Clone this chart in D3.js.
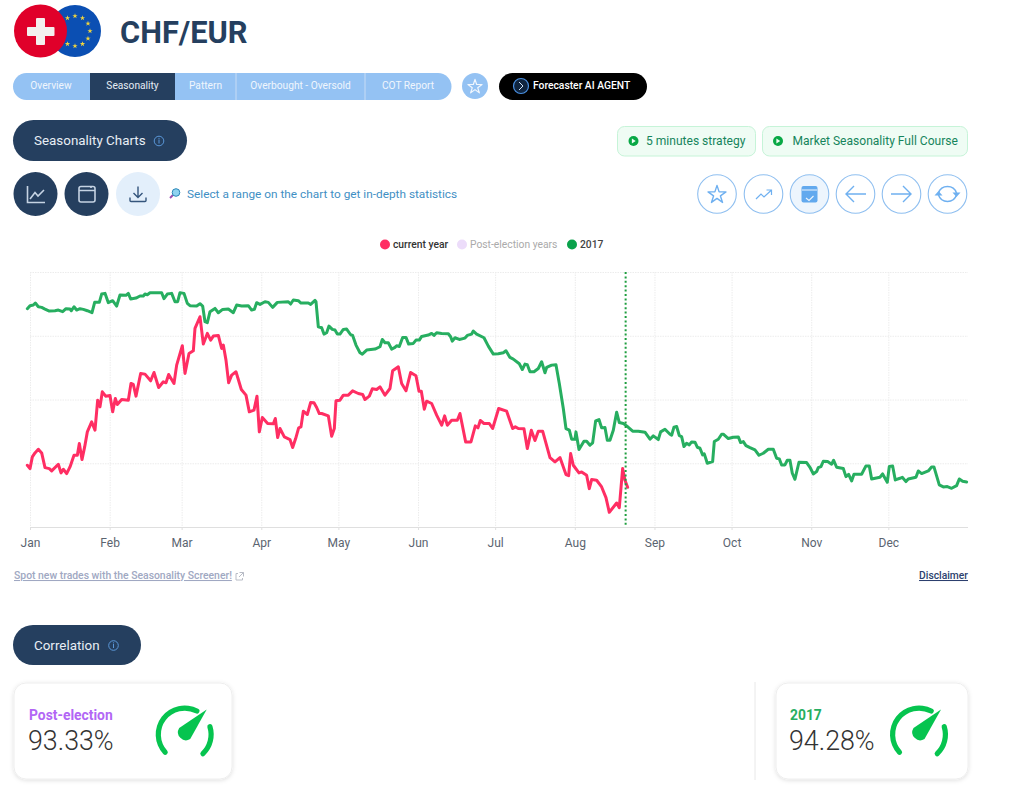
<!DOCTYPE html>
<html>
<head>
<meta charset="utf-8">
<script src="https://cdn.jsdelivr.net/npm/d3@7/dist/d3.min.js"></script>
<style>
html,body{margin:0;padding:0;background:#fff;overflow:hidden}
svg{display:block;font-family:Roboto,sans-serif}
</style>
</head>
<body>
<svg id="page" width="1024" height="811"></svg>
<script>
// ---------- data ----------
// x readings: position along the year, 7.71 units per day; y readings: unlabelled index
const UNITS_PER_DAY = 7.71;
const monthNames = ["Jan","Feb","Mar","Apr","May","Jun","Jul","Aug","Sep","Oct","Nov","Dec"];
const monthStartDays = [0,31,59,90,120,151,181,212,243,273,304,334];
const gridLevels = [0,191,382,573,764];
const todayPos = 1787;

const greenPos = [-8,0,10,16,25,35,45,58,75,85,98,108,120,124,132,140,150,160,172,186,194,208,215,225,235,248,260,270,288,295,302,318,330,340,345,352,360,375,395,402,412,425,435,443,450,462,472,480,500,510,518,525,532,540,555,565,578,595,610,620,635,655,665,673,680,690,705,715,728,742,775,782,790,805,813,835,842,855,858,865,875,882,890,897,907,915,922,930,
940,950,962,968,978,990,997,1010,1035,1050,1057,1065,1075,1085,1095,1100,1108,1118,1128,1136,1150,1158,1168,1175,1195,1205,1212,1220,1235,1255,1262,1267,1275,1288,1305,1312,1325,1330,1340,1362,1375,1390,1405,1420,1428,1440,1450,1468,1477,1485,1492,1500,1512,1525,1535,1545,1550,1565,1578,1588,1600,1608,1618,1625,1635,1638,1647,1662,1670,1680,1688,1697,1707,1715,1725,1732,1740,1750,1760,1768,1780,1790,1808,1825,1845,1860,1870,1885,1892,1905,1920,
1925,1932,1940,1948,1955,1962,1970,1978,1985,1995,2002,2010,2018,2023,2032,2048,2053,2065,2075,2080,2095,2110,2125,2132,2140,2148,2160,2175,2187,2200,2215,2230,2240,2248,2255,2265,2272,2280,2287,2295,2307,2330,2340,2350,2360,2365,2373,2380,2393,2405,2411,2420,2440,2448,2456,2465,2472,2495,2508,2518,2525,2550,2558,2572,2578,2588,2596,2610,2617,2628,2635,2658,2665,2675,2695,2705,2712,2728,2740,2752,2765,2780,2788,2798,2810];
const greenVal = [654,663,665,671,660,658,653,647,648,650,645,654,653,648,660,650,654,652,648,642,673,673,698,700,672,678,662,695,694,700,683,686,692,692,698,696,702,702,702,684,698,700,675,675,702,700,670,663,662,669,662,615,612,645,655,642,652,653,642,665,662,663,650,652,672,667,675,673,658,673,675,668,680,678,671,671,667,679,675,600,597,578,582,602,592,590,578,578,
592,593,576,574,545,522,518,530,533,540,562,552,552,533,538,543,541,568,568,548,550,560,560,571,575,580,574,582,580,579,570,557,567,562,566,574,578,587,578,567,542,518,519,522,528,508,503,489,472,488,486,465,465,475,495,462,478,485,486,430,355,295,290,263,263,285,232,257,257,245,252,318,322,297,298,260,260,290,344,313,310,303,287,287,284,263,273,262,285,293,278,
275,299,301,274,271,241,251,246,255,254,239,236,216,219,191,196,256,263,278,278,265,269,270,253,256,244,238,231,215,221,233,233,206,204,186,186,200,200,161,143,194,193,179,159,166,178,181,197,196,188,200,179,175,151,158,138,158,158,183,183,144,149,159,134,181,183,141,146,149,136,144,149,168,160,168,180,180,126,120,121,116,124,144,137,135];

const redPos = [-8,0,7,15,25,35,45,58,65,85,93,100,110,120,132,142,148,156,164,172,185,195,203,210,217,227,240,248,256,262,275,295,303,310,318,332,345,362,372,386,400,408,416,432,440,457,465,477,490,495,510,520,532,542,550,565,575,580,588,596,605,618,634,648,658,672,681,688,697,713,730,736,743,750,763,780,788,797,806,813,820,832,842,852,860,868,875,895,905,913,918,930,
940,955,968,985,998,1005,1018,1027,1040,1050,1065,1080,1088,1105,1115,1128,1142,1158,1167,1174,1183,1190,1205,1220,1235,1244,1252,1265,1282,1290,1307,1323,1336,1344,1351,1362,1378,1388,1406,1430,1448,1456,1465,1482,1492,1504,1515,1525,1538,1560,1575,1590,1608,1616,1622,1630,1647,1655,1670,1678,1685,1700,1715,1728,1738,1760,1768,1778,1785,1793];
const redVal = [185,175,210,222,233,222,178,175,168,188,162,173,160,180,215,215,250,202,240,285,315,290,380,360,405,392,394,345,385,367,382,380,430,427,392,460,458,438,463,418,435,432,457,430,485,543,460,520,528,595,630,548,580,560,572,574,535,545,500,432,455,465,412,395,345,350,392,285,328,310,309,325,268,295,270,262,238,265,297,300,347,337,373,372,358,340,340,333,272,295,378,380,
395,395,408,400,397,382,392,414,412,420,395,415,468,480,430,408,463,453,407,407,353,377,370,335,305,333,305,320,320,340,255,255,303,297,319,310,310,295,355,347,295,300,295,294,235,290,259,287,287,208,195,208,157,154,220,185,162,165,155,115,142,140,120,88,44,72,58,175,140,119];

const legendLabels = ["current year","Post-election years","2017"];
const tabLabels = ["Overview","Seasonality","Pattern","Overbought - Oversold","COT Report"];
const corrLabels = ["Post-election","2017"];
const corrValues = ["93.33%","94.28%"];

// ---------- colours ----------
const NAVY="#253f5f", TAB="#94c2f3", RED="#ff2e63", GREEN="#27ae60", GAUGE="#06c44f", RING="#8fbff0";

const svg = d3.select("#page");
const txt = (g,x,y,s,size,fill,o={}) => g.append("text").attr("x",x).attr("y",y).text(s)
  .attr("font-size",size).attr("fill",fill).attr("font-weight",o.w||400)
  .attr("text-anchor",o.a||"start").attr("text-decoration",o.u?"underline":null);

const defs = svg.append("defs");
const sh = defs.append("filter").attr("id","cardShadow").attr("x","-10%").attr("y","-10%").attr("width","120%").attr("height","125%");
sh.append("feDropShadow").attr("dx",0).attr("dy",1).attr("stdDeviation",2).attr("flood-color","#000").attr("flood-opacity",0.13);

// ---------- header ----------
const head = svg.append("g");
head.append("circle").attr("cx",75).attr("cy",31).attr("r",26).attr("fill","#0b4fb3");
d3.range(12).forEach(i=>{
  const a=i*Math.PI/6;
  head.append("path").attr("d",d3.symbol(d3.symbolStar,9)())
    .attr("transform",`translate(${75+15*Math.sin(a)},${31-15*Math.cos(a)})`).attr("fill","#f2d53c");
});
head.append("circle").attr("cx",40.5).attr("cy",31).attr("r",26.5).attr("fill","#e0002a");
head.append("rect").attr("x",36).attr("y",18).attr("width",9).attr("height",27).attr("rx",1).attr("fill","#f3f0ee");
head.append("rect").attr("x",27).attr("y",27).attr("width",27.5).attr("height",9).attr("rx",1).attr("fill","#f3f0ee");
txt(head,120,43,"CHF/EUR",30.8,NAVY,{w:700});

// ---------- tabs ----------
const tabs = svg.append("g");
tabs.append("rect").attr("x",13).attr("y",73).attr("width",438.5).attr("height",27).attr("rx",13.5).attr("fill",TAB);
tabs.append("rect").attr("x",90).attr("y",73).attr("width",85).attr("height",27).attr("fill",NAVY);
[236,365].forEach(x=>tabs.append("line").attr("x1",x).attr("x2",x).attr("y1",73).attr("y2",100).attr("stroke","#c7dcf5"));
[51,132.5,205.5,300.5,408].forEach((x,i)=>txt(tabs,x,89,tabLabels[i],10.2,i==1?"#e6edf5":"#f0f6fd",{a:"middle"}));
tabs.append("circle").attr("cx",475).attr("cy",86).attr("r",13).attr("fill",TAB);
const star = (g,cx,cy,s,stroke,w)=>g.append("path").attr("d",d3.symbol(d3.symbolStar,s)())
  .attr("transform",`translate(${cx},${cy+0.8})`).attr("fill","none").attr("stroke",stroke).attr("stroke-width",w).attr("stroke-linejoin","round");
star(tabs,475,86,62,"#f2f7fd",1.2);
tabs.append("rect").attr("x",499).attr("y",73).attr("width",148).attr("height",27).attr("rx",13.5).attr("fill","#000");
tabs.append("circle").attr("cx",521).attr("cy",86).attr("r",7.5).attr("fill","#10253f").attr("stroke","#4a90e2").attr("stroke-width",1.2);
tabs.append("path").attr("d","M519,82L523,86L519,90").attr("fill","none").attr("stroke","#cfe3fa").attr("stroke-width",1);
txt(tabs,533,89.2,"Forecaster AI AGENT",10.3,"#fff",{w:500});

// ---------- pills ----------
const pill=(x,w,y,h,label,ix)=>{
  const g=svg.append("g");
  g.append("rect").attr("x",x).attr("y",y).attr("width",w).attr("height",h).attr("rx",h/2).attr("fill",NAVY);
  txt(g,34,y+h/2+4.5,label,13.4,"#e8eef5");
  g.append("circle").attr("cx",ix).attr("cy",y+h/2+0.5).attr("r",4.8).attr("fill","none").attr("stroke","#5a97d8").attr("stroke-width",1);
  g.append("line").attr("x1",ix).attr("x2",ix).attr("y1",y+h/2-1).attr("y2",y+h/2+3).attr("stroke","#5a97d8");
  g.append("circle").attr("cx",ix).attr("cy",y+h/2-2.2).attr("r",0.6).attr("fill","#5a97d8");
};
pill(13,174,120,41,"Seasonality Charts",159);
pill(13,128,625,40,"Correlation",113.5);

// ---------- left tool buttons ----------
const tools=svg.append("g");
[[35.5,NAVY],[86.5,NAVY],[138,"#e3effb"]].forEach(d=>tools.append("circle").attr("cx",d[0]).attr("cy",194).attr("r",22).attr("fill",d[1]));
tools.append("path").attr("d","M27.5,186V202.5H45M30,199L35,192.5L38,196L44,190").attr("fill","none").attr("stroke","#c5d3e3").attr("stroke-width",1.6);
tools.append("rect").attr("x",79).attr("y",186.5).attr("width",16).attr("height",15.5).attr("rx",2).attr("fill","none").attr("stroke","#c5d3e3").attr("stroke-width",1.6);
tools.append("path").attr("d","M79,190.5H95M91,186V188").attr("fill","none").attr("stroke","#c5d3e3").attr("stroke-width",1.6);
tools.append("path").attr("d","M138,186.5V197M133.5,193L138,197.5L142.5,193M130,197.5V200.5Q130,201.5 131,201.5H145Q146,201.5 146,200.5V197.5").attr("fill","none").attr("stroke","#34557c").attr("stroke-width",1.4);
tools.append("line").attr("x1",170).attr("y1",198).attr("x2",173).attr("y2",195).attr("stroke","#9a4fb0").attr("stroke-width",2);
tools.append("circle").attr("cx",176).attr("cy",192.5).attr("r",3.8).attr("fill","#8fd3f0").attr("stroke","#2b87b8").attr("stroke-width",1);
txt(tools,187,197.5,"Select a range on the chart to get in-depth statistics",11.82,"#3f8fc4");

// ---------- course buttons ----------
const course=svg.append("g");
[[617.5,138,633.5,646,"5 minutes strategy"],[762.5,205,778,792.5,"Market Seasonality Full Course"]].forEach(d=>{
  course.append("rect").attr("x",d[0]).attr("y",126.5).attr("width",d[1]).attr("height",29.5).attr("rx",7).attr("fill","#effcf4").attr("stroke","#c6f4d8");
  course.append("circle").attr("cx",d[2]).attr("cy",141).attr("r",5).attr("fill","#08a845");
  course.append("path").attr("d",`M${d[2]-1.6},${138.6}L${d[2]+2.2},141L${d[2]-1.6},${143.4}Z`).attr("fill","#effcf4");
  txt(course,d[3],145,d[4],12.05,"#16855c");
});

// ---------- right ring buttons ----------
const rings=svg.append("g");
const ringX=[717,763.5,809.5,855.5,901.5,947.5];
ringX.forEach((x,i)=>rings.append("circle").attr("cx",x).attr("cy",194).attr("r",19.3)
  .attr("fill",i==2?"#edf5fd":"#fff").attr("stroke",RING).attr("stroke-width",1.1));
const IC="#6fb0f0";
star(rings,717,194,100,IC,1.4);
rings.append("path").attr("d","M756,199L761,194L764,197L771,190.5M766.5,190H771.5V195").attr("fill","none").attr("stroke",IC).attr("stroke-width",1.2);
rings.append("rect").attr("x",801.5).attr("y",186).attr("width",16).attr("height",16.5).attr("rx",2).attr("fill","#62a9ee");
rings.append("path").attr("d","M802,190H817M806,198L809,200.5L813.5,196").attr("fill","none").attr("stroke","#edf5fd").attr("stroke-width",1.1);
rings.append("path").attr("d","M846,194H866M854,186L846,194L854,202").attr("fill","none").attr("stroke",IC).attr("stroke-width",1.4);
rings.append("path").attr("d","M891,194H911M903,186L911,194L903,202").attr("fill","none").attr("stroke",IC).attr("stroke-width",1.4);
rings.append("path").attr("d","M938.5,193A9.5,9.5 0 0 1 956.5,193M938.5,195A9.5,9.5 0 0 0 956.5,195").attr("fill","none").attr("stroke",IC).attr("stroke-width",1.5);
rings.append("path").attr("d","M952.5,192.5H960.5L956.5,197ZM934.5,195.5H942.5L938.5,191Z").attr("fill",IC);

// ---------- legend ----------
const legend=svg.append("g");
[[385,393,RED,"#333",0,500],[462,470,"#ecdcfa","#aaa",1,400],[572,580,"#0aa24b","#444",2,500]].forEach(d=>{
  legend.append("circle").attr("cx",d[0]).attr("cy",244.5).attr("r",5).attr("fill",d[2]);
  txt(legend,d[1],248.3,legendLabels[d[4]],10.3,d[3],{w:d[5]});
});

// ---------- chart ----------
const x=d3.scaleLinear().domain([0,365]).range([30,968]);
const y=d3.scaleLinear().domain([0,764]).range([527,272]);
const chart=svg.append("g");

const gy=chart.append("g").attr("transform","translate(30,0)")
  .call(d3.axisLeft(y).tickValues(gridLevels.slice(1)).tickSize(-938).tickFormat(""));
gy.select(".domain").remove();
gy.selectAll("line").attr("stroke","#ececec").attr("stroke-dasharray","1.5 1");

const gv=chart.append("g").attr("transform","translate(0,272)")
  .call(d3.axisBottom(x).tickValues(monthStartDays).tickSize(255).tickFormat(""));
gv.select(".domain").remove();
gv.selectAll("line").attr("stroke","#ececec").attr("stroke-dasharray","1.5 1");

const gx=chart.append("g").attr("transform","translate(0,527)")
  .call(d3.axisBottom(x).tickValues(monthStartDays).tickSize(3).tickPadding(8)
    .tickFormat((d,i)=>monthNames[i]));
gx.select(".domain").attr("stroke","#dfdfdf").attr("d","M30,0.5H968");
gx.selectAll("line").attr("stroke","#dfdfdf");
gx.selectAll("text").attr("font-size",12).attr("font-family","Roboto,sans-serif").attr("fill","#5b6470");

const line=d3.line().x(d=>x(d[0]/UNITS_PER_DAY)).y(d=>y(d[1]));
const path=(xs,ys,c)=>chart.append("path").attr("d",line(d3.zip(xs,ys))).attr("fill","none")
  .attr("stroke",c).attr("stroke-width",3).attr("stroke-linejoin","round").attr("stroke-linecap","round");

path(greenPos,greenVal,GREEN);
path(redPos,redVal,RED);

chart.append("line").attr("x1",x(todayPos/UNITS_PER_DAY)).attr("x2",x(todayPos/UNITS_PER_DAY))
  .attr("y1",272).attr("y2",527).attr("stroke","#1f9e3f").attr("stroke-width",2).attr("stroke-dasharray","2 2.4");

// ---------- footer links ----------
const foot=svg.append("g");
txt(foot,14,579,"Spot new trades with the Seasonality Screener!",10.4,"#a0a8c2",{u:1,w:500});
foot.append("path").attr("d","M238,573.5H236V580H242.5V578M239.5,572.5H243.5V576.5M243.5,572.5L239,577").attr("fill","none").attr("stroke","#b8bcc6").attr("stroke-width",1);
txt(foot,968,579,"Disclaimer",10.3,"#2c3f6e",{u:1,w:500,a:"end"});

// ---------- correlation cards ----------
const arc=d3.arc().innerRadius(23.8).outerRadius(29).cornerRadius(2.6);
const rad=a=>a*Math.PI/180;
const card=(cx,cw,tx,label,val,labCol,gx0)=>{
  const g=svg.append("g");
  g.append("rect").attr("x",cx).attr("y",683).attr("width",cw).attr("height",96).attr("rx",12)
    .attr("fill","#fff").attr("stroke","#eeeeee").attr("filter","url(#cardShadow)");
  txt(g,tx,720,label,13.85,labCol,{w:700});
  txt(g,tx-1,750,val,26.8,"#333",{w:300});
  const c=g.append("g").attr("transform",`translate(${gx0},734.5)`);
  c.append("path").attr("d",arc({startAngle:rad(-138),endAngle:rad(33)})).attr("fill",GAUGE);
  c.append("path").attr("d",arc({startAngle:rad(67),endAngle:rad(142)})).attr("fill",GAUGE);
  c.append("path").attr("d","M22,-24L5.5,5.5A8,8 0 0 1 -5.5,-5.5Z").attr("fill",GAUGE).attr("transform","translate(0,-1)");
};
card(14,218,29,corrLabels[0],corrValues[0],"#b266f5",184.7);
card(776,192,790,corrLabels[1],corrValues[1],GREEN,919);
svg.append("line").attr("x1",755).attr("x2",755).attr("y1",682).attr("y2",780).attr("stroke","#e8e8e8");
</script>
</body>
</html>
